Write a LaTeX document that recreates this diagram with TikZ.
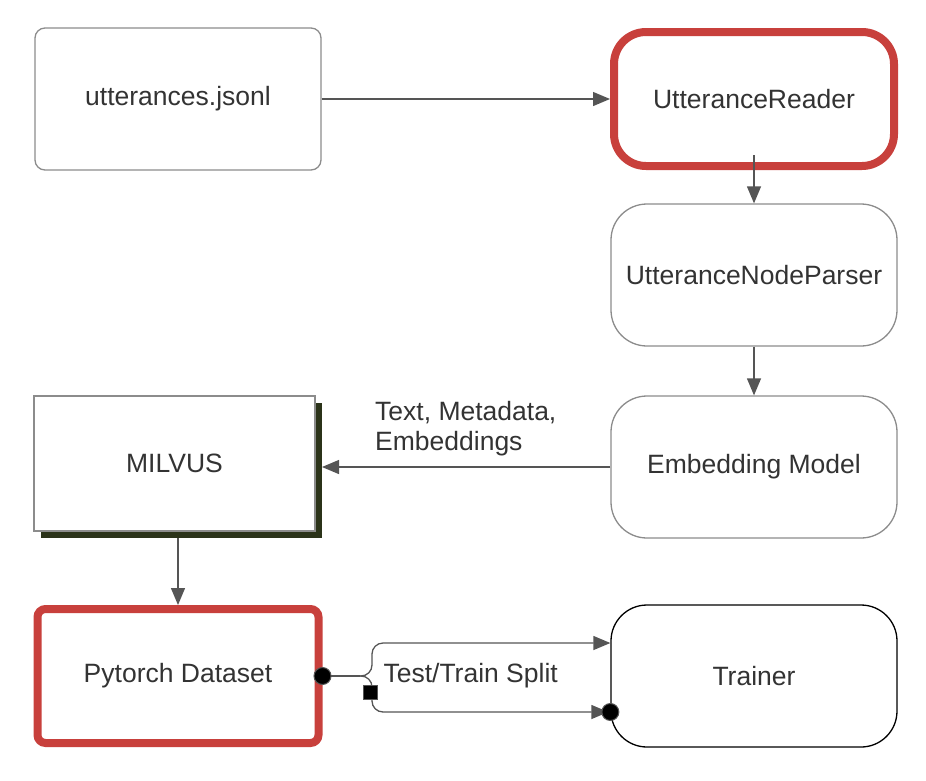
\documentclass[tikz,border=0pt]{standalone}
\usepackage{fontspec}
\setmainfont{Liberation Sans}
\usetikzlibrary{arrows.meta,shadows}

\definecolor{txtgray}{HTML}{333333}
\definecolor{linegray}{HTML}{555555}
\definecolor{boxgray}{HTML}{8C8C8C}
\definecolor{hired}{HTML}{C8403C}
\definecolor{shadowolive}{HTML}{2B3319}

\tikzset{
  block/.style={draw=boxgray,line width=1.3pt,fill=white,text=txtgray,
    font=\fontsize{26.5}{30}\selectfont,minimum width=286pt,minimum height=142pt},
  roundblock/.style={block,rounded corners=36pt},
  redblock/.style={block,draw=hired,line width=8pt,minimum width=280pt,minimum height=134pt},
  link/.style={draw=linegray,line width=1.3pt,-{Triangle[length=17pt,width=14pt]}},
  dot/.style={circle,fill=black,draw=linegray,line width=1pt,inner sep=0pt,minimum size=17pt},
}

\begin{document}
\begin{tikzpicture}[x=1pt,y=-1pt]
\useasboundingbox (0,0) rectangle (926,780);
% nodes
\node[block,rounded corners=10pt] (utt) at (178,99) {utterances.jsonl};
\node[redblock,rounded corners=32pt] (reader) at (754,99) {UtteranceReader};
\node[roundblock] (parser) at (754,275) {UtteranceNodeParser};
\node[roundblock] (embed) at (754,467) {Embedding Model};
\node[block,minimum width=281pt,minimum height=135pt,
  drop shadow={shadow xshift=7pt,shadow yshift=-7pt,fill=shadowolive,opacity=1}] (milvus) at (174.5,463.5) {MILVUS};
\node[redblock,rounded corners=8pt,minimum width=281pt] (dataset) at (178,676) {Pytorch Dataset};
\node[roundblock,draw=black] (trainer) at (754,676) {Trainer};

% connectors
\draw[link] (utt.east) -- (reader.west);
\draw[link] ([yshift=-56pt]reader.center) -- (parser.north);
\draw[link] (parser.south) -- (embed.north);
\draw[link] (embed.west) -- (322,467);
\draw[link] (178,538) -- (dataset.north);
\node[anchor=north west,align=left,text=txtgray,font=\fontsize{26.5}{30}\selectfont,inner sep=0pt] (emblabel) at (375,401) {Text, Metadata,\\Embeddings};

% test/train split
\coordinate (split) at (360,676);
\draw[draw=linegray,line width=1.3pt] (dataset.east) -- (split);
\draw[link,rounded corners=11pt] (split) -- (372,676) -- (372,643) -- ([yshift=33pt]trainer.west);
\draw[link,rounded corners=11pt] (split) -- (372,676) -- (372,712) -- ([yshift=-36pt,xshift=-2pt]trainer.west);
\node[dot] (srcdot) at (dataset.east) {};
\node[dot] (dstdot) at ([yshift=-36pt]trainer.west) {};
\node[fill=black,draw=linegray,line width=1pt,minimum size=14pt,inner sep=0pt] (sq) at (370,692) {};
\node[anchor=west,text=txtgray,font=\fontsize{26.5}{30}\selectfont] (splitlabel) at (380,676) {Test/Train Split};
\end{tikzpicture}
\end{document}
